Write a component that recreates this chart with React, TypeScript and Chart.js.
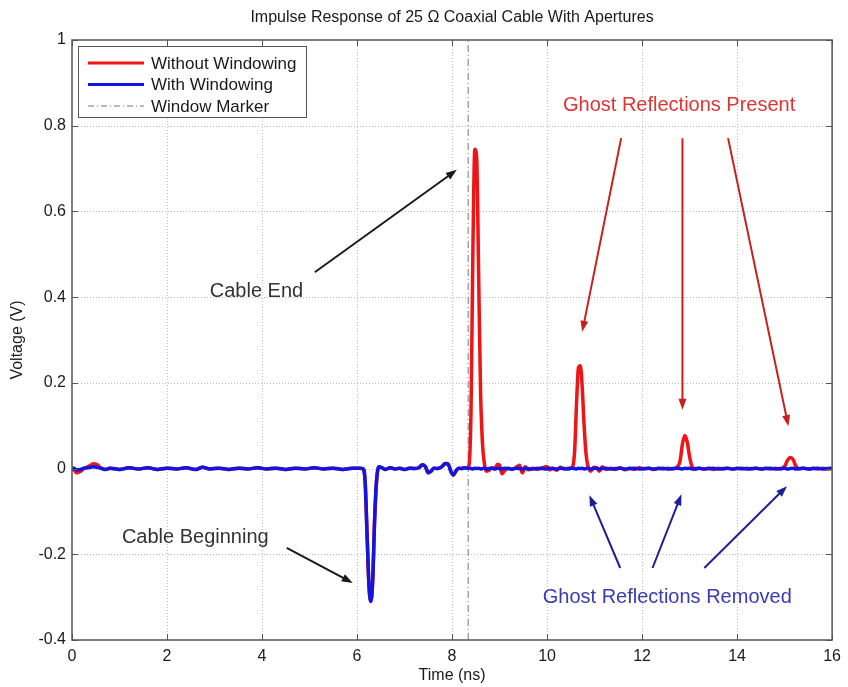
import React, { useEffect, useRef } from "react";
import { Chart, registerables } from "chart.js";

Chart.register(...registerables);

// ---------------- DATA ----------------
const TITLE = "Impulse Response of 25 \u03A9 Coaxial Cable With Apertures";
const X_LABEL = "Time (ns)";
const Y_LABEL = "Voltage (V)";
const SERIES_NAMES = ["Without Windowing", "With Windowing", "Window Marker"];

const X_TICKS = [0, 2, 4, 6, 8, 10, 12, 14, 16];
const Y_TICKS = [-0.4, -0.2, 0, 0.2, 0.4, 0.6, 0.8, 1];

const TIME_NS = [
  0, 0.05, 0.1, 0.18, 0.25, 0.35, 0.45, 0.52, 0.6, 0.7,
  0.8, 1.0, 1.2, 1.4, 1.6, 1.8, 2.0, 2.2, 2.4, 2.6,
  2.75, 2.9, 3.1, 3.3, 3.5, 3.7, 3.9, 4.1, 4.3, 4.5,
  4.7, 4.9, 5.1, 5.3, 5.5, 5.7, 5.9, 6.05, 6.12, 6.17,
  6.21, 6.25, 6.29, 6.33, 6.37, 6.41, 6.46, 6.52, 6.6, 6.7,
  6.8, 6.9, 7.0, 7.1, 7.2, 7.3, 7.38, 7.44, 7.5, 7.56,
  7.62, 7.7, 7.78, 7.86, 7.92, 7.98, 8.03, 8.08, 8.14, 8.2,
  8.26, 8.32, 8.36, 8.4, 8.44, 8.48, 8.52, 8.56, 8.6, 8.64,
  8.68, 8.72, 8.78, 8.84, 8.9, 8.96, 9.0, 9.05, 9.1, 9.18,
  9.26, 9.34, 9.42, 9.48, 9.54, 9.6, 9.7, 9.8, 9.9, 10.0,
  10.05, 10.12, 10.2, 10.28, 10.36, 10.44, 10.52, 10.58, 10.62, 10.66,
  10.7, 10.74, 10.78, 10.82, 10.86, 10.92, 10.98, 11.04, 11.1, 11.16,
  11.24, 11.34, 11.44, 11.54, 11.64, 11.74, 11.84, 11.94, 12.04, 12.14,
  12.24, 12.34, 12.44, 12.54, 12.64, 12.72, 12.8, 12.85, 12.9, 12.95,
  13.0, 13.05, 13.12, 13.2, 13.3, 13.4, 13.5, 13.6, 13.7, 13.8,
  13.9, 14.0, 14.1, 14.2, 14.3, 14.4, 14.5, 14.6, 14.7, 14.8,
  14.9, 15.0, 15.06, 15.12, 15.18, 15.24, 15.3, 15.4, 15.5, 15.6,
  15.7, 15.8, 15.9, 16.0,
];

const WITHOUT_WINDOWING = [
  0, -0.004, -0.01, -0.006, 0, 0.005, 0.011, 0.01, 0.002, -0.002,
  0.001, -0.002, 0.002, -0.001, 0.002, -0.002, 0.001, -0.001, 0.002, -0.002,
  0.003, -0.001, 0.001, -0.002, 0.001, -0.001, 0.002, -0.001, 0.001, -0.002,
  0.001, -0.001, 0.002, -0.001, 0.001, -0.002, 0.001, 0.001, 0, -0.03,
  -0.15, -0.27, -0.31, -0.26, -0.12, -0.03, 0.004, 0.002, -0.002, 0.002,
  -0.001, 0.001, -0.002, 0.001, 0, 0.002, 0.009, 0.004, -0.01, -0.006,
  0.001, 0, 0.004, 0.012, 0.01, -0.008, -0.015, -0.006, 0.001, 0,
  0.002, 0.001, 0.01, 0.14, 0.52, 0.745, 0.72, 0.45, 0.18, 0.06,
  0.012, -0.006, -0.004, 0.002, 0.001, 0.01, 0.008, -0.012, -0.006, 0.001,
  -0.002, 0.002, 0.008, -0.01, 0.004, -0.003, 0.001, -0.002, 0.002, 0.005,
  -0.003, 0.001, -0.004, 0.003, -0.001, 0.001, 0.002, 0.04, 0.15, 0.235,
  0.24, 0.19, 0.1, 0.035, 0.006, -0.006, 0.003, 0.002, -0.006, 0.004,
  -0.002, 0.001, -0.002, 0.002, -0.003, 0.001, -0.002, 0.002, -0.001, 0.001,
  -0.002, 0.001, -0.001, 0.001, -0.001, 0.002, 0.018, 0.058, 0.077, 0.062,
  0.028, 0.005, -0.002, 0.001, -0.001, 0.001, -0.002, 0.001, -0.001, 0.001,
  -0.001, 0.001, -0.001, 0.001, -0.001, 0.001, -0.001, 0.001, -0.001, 0.001,
  -0.001, 0.005, 0.019, 0.026, 0.021, 0.005, -0.001, 0.001, -0.001, 0.001,
  -0.001, 0.001, -0.001, 0,
];

const WITH_WINDOWING = [
  0.002, 0, -0.003, -0.002, 0.001, 0.002, 0.004, 0.003, 0.001, -0.002,
  0.001, -0.002, 0.002, -0.001, 0.002, -0.002, 0.001, -0.001, 0.002, -0.002,
  0.003, -0.001, 0.001, -0.002, 0.001, -0.001, 0.002, -0.001, 0.001, -0.002,
  0.001, -0.001, 0.002, -0.001, 0.001, -0.002, 0.001, 0.001, 0, -0.03,
  -0.15, -0.27, -0.31, -0.26, -0.12, -0.03, 0.004, 0.002, -0.002, 0.002,
  -0.001, 0.001, -0.002, 0.001, 0, 0.002, 0.009, 0.004, -0.01, -0.006,
  0.001, 0, 0.004, 0.012, 0.01, -0.008, -0.015, -0.006, 0.001, 0,
  0.002, 0.001, 0.001, 0, -0.001, 0.001, 0, 0.001, -0.001, 0,
  0.001, -0.001, 0, 0.001, -0.001, 0.001, 0, -0.001, 0.001, 0,
  -0.001, 0.001, 0, -0.001, 0.001, 0, -0.001, 0.001, 0, -0.001,
  0.001, 0, -0.001, 0.001, 0, -0.001, 0.001, 0, -0.001, 0.001,
  0, 0.001, -0.001, 0, 0.001, -0.001, 0, 0.001, -0.001, 0,
  0.001, -0.001, 0, 0.001, -0.001, 0, 0.001, -0.001, 0, 0.001,
  -0.001, 0, 0.001, -0.001, 0, 0.001, 0, -0.001, 0.001, 0,
  0.001, -0.001, 0, 0.001, -0.001, 0, 0.001, -0.001, 0, 0.001,
  -0.001, 0, 0.001, -0.001, 0, 0.001, -0.001, 0, 0.001, -0.001,
  0, 0.001, -0.001, 0, 0.001, -0.001, 0, 0.001, -0.001, 0,
  0.001, -0.001, 0, 0.001,
];

const WINDOW_MARKER_NS = 8.34;

// Annotations (text anchors and arrows in data units: [time ns, voltage V])
const NOTE_TEXTS = ["Cable End", "Cable Beginning", "Ghost Reflections Present", "Ghost Reflections Removed"];
const NOTE_ANCHORS = [[2.9, 0.414], [1.05, -0.16], [12.78, 0.848], [12.53, -0.3]];
const ARROWS_CABLE = [[[5.11, 0.458], [8.1, 0.697]], [[4.52, -0.185], [5.91, -0.267]]];
const ARROWS_PRESENT = [
  [[11.56, 0.771], [10.74, 0.319]],
  [[12.85, 0.771], [12.85, 0.137]],
  [[13.81, 0.771], [15.08, 0.099]],
];
const ARROWS_REMOVED = [
  [[11.54, -0.232], [10.89, -0.062]],
  [[12.22, -0.232], [12.83, -0.06]],
  [[13.31, -0.232], [15.05, -0.041]],
];

// ---------------- STYLE ----------------
const FONT = "Arial, 'Liberation Sans', sans-serif";
const RED = "#f01414";
const BLUE = "#1414e0";
const MARKER = "#777777";

function arrow(ctx: CanvasRenderingContext2D, x1: number, y1: number, x2: number, y2: number, color: string) {
  const ang = Math.atan2(y2 - y1, x2 - x1);
  const len = 11;
  const half = 4;
  ctx.strokeStyle = color;
  ctx.fillStyle = color;
  ctx.lineWidth = 2;
  ctx.setLineDash([]);
  ctx.beginPath();
  ctx.moveTo(x1, y1);
  ctx.lineTo(x2 - Math.cos(ang) * len * 0.6, y2 - Math.sin(ang) * len * 0.6);
  ctx.stroke();
  ctx.beginPath();
  ctx.moveTo(x2, y2);
  ctx.lineTo(x2 - Math.cos(ang) * len + Math.sin(ang) * half, y2 - Math.sin(ang) * len - Math.cos(ang) * half);
  ctx.lineTo(x2 - Math.cos(ang) * len - Math.sin(ang) * half, y2 - Math.sin(ang) * len + Math.cos(ang) * half);
  ctx.closePath();
  ctx.fill();
}

const decoPlugin = {
  id: "deco",
  beforeDatasetsDraw(chart: any) {
    const { ctx, chartArea: a, scales } = chart;
    const xs = scales.x;
    const ys = scales.y;
    ctx.save();
    ctx.strokeStyle = "#bdbdbd";
    ctx.lineWidth = 1;
    ctx.setLineDash([1, 2]);
    for (const t of X_TICKS.slice(1, -1)) {
      const px = Math.round(xs.getPixelForValue(t)) + 0.5;
      ctx.beginPath();
      ctx.moveTo(px, a.top);
      ctx.lineTo(px, a.bottom);
      ctx.stroke();
    }
    for (const v of Y_TICKS.slice(1, -1)) {
      const py = Math.round(ys.getPixelForValue(v)) + 0.5;
      ctx.beginPath();
      ctx.moveTo(a.left, py);
      ctx.lineTo(a.right, py);
      ctx.stroke();
    }
    ctx.restore();
  },
  afterDatasetsDraw(chart: any) {
    const { ctx, chartArea: a, scales } = chart;
    const xs = scales.x;
    const ys = scales.y;
    const P = (p: number[]) => [xs.getPixelForValue(p[0]), ys.getPixelForValue(p[1])];
    ctx.save();
    // frame
    ctx.setLineDash([]);
    ctx.strokeStyle = "#555555";
    ctx.lineWidth = 1.5;
    ctx.strokeRect(a.left, a.top, a.right - a.left, a.bottom - a.top);
    // inner ticks
    ctx.lineWidth = 1;
    const tl = 6;
    for (const t of X_TICKS) {
      const px = Math.round(xs.getPixelForValue(t)) + 0.5;
      ctx.beginPath();
      ctx.moveTo(px, a.bottom);
      ctx.lineTo(px, a.bottom - tl);
      ctx.moveTo(px, a.top);
      ctx.lineTo(px, a.top + tl);
      ctx.stroke();
    }
    for (const v of Y_TICKS) {
      const py = Math.round(ys.getPixelForValue(v)) + 0.5;
      ctx.beginPath();
      ctx.moveTo(a.left, py);
      ctx.lineTo(a.left + tl, py);
      ctx.moveTo(a.right, py);
      ctx.lineTo(a.right - tl, py);
      ctx.stroke();
    }

    // annotations
    ctx.textBaseline = "middle";
    ctx.font = `20px ${FONT}`;
    const colors = ["#333333", "#333333", "#e03434", "#3a3ab4"];
    const aligns = ["left", "left", "center", "center"];
    NOTE_TEXTS.forEach((txt, i) => {
      const [px, py] = P(NOTE_ANCHORS[i]);
      ctx.fillStyle = colors[i];
      ctx.textAlign = aligns[i];
      ctx.fillText(txt, px, py);
    });
    for (const [s, e] of ARROWS_CABLE) {
      const [x1, y1] = P(s);
      const [x2, y2] = P(e);
      arrow(ctx, x1, y1, x2, y2, "#1a1a1a");
    }
    for (const [s, e] of ARROWS_PRESENT) {
      const [x1, y1] = P(s);
      const [x2, y2] = P(e);
      arrow(ctx, x1, y1, x2, y2, "#c82020");
    }
    for (const [s, e] of ARROWS_REMOVED) {
      const [x1, y1] = P(s);
      const [x2, y2] = P(e);
      arrow(ctx, x1, y1, x2, y2, "#1e1e96");
    }

    // legend box
    const lx = a.left + 6;
    const ly = a.top + 6;
    const lw = 228;
    const lh = 71;
    ctx.fillStyle = "#ffffff";
    ctx.fillRect(lx, ly, lw, lh);
    ctx.strokeStyle = "#555555";
    ctx.lineWidth = 1;
    ctx.strokeRect(lx + 0.5, ly + 0.5, lw, lh);
    const legColors = [RED, BLUE, MARKER];
    const legWidths = [3, 3, 1];
    const legDash = [[], [], [6, 3, 1, 3]];
    ctx.font = `17px ${FONT}`;
    ctx.textAlign = "left";
    ctx.textBaseline = "middle";
    SERIES_NAMES.forEach((name, i) => {
      const yy = ly + 17 + i * 21.5;
      ctx.strokeStyle = legColors[i];
      ctx.lineWidth = legWidths[i];
      ctx.setLineDash(legDash[i]);
      ctx.beginPath();
      ctx.moveTo(lx + 10, yy);
      ctx.lineTo(lx + 66, yy);
      ctx.stroke();
      ctx.setLineDash([]);
      ctx.fillStyle = "#1a1a1a";
      ctx.fillText(name, lx + 73, yy + 1);
    });
    ctx.restore();
  },
  afterDraw(chart: any) {
    const { ctx, chartArea: a } = chart;
    ctx.save();
    ctx.fillStyle = "#1a1a1a";
    ctx.textAlign = "center";
    ctx.textBaseline = "middle";
    ctx.font = `16px ${FONT}`;
    ctx.fillText(TITLE, (a.left + a.right) / 2, 18);
    ctx.fillText(X_LABEL, (a.left + a.right) / 2, 676);
    ctx.translate(18, (a.top + a.bottom) / 2);
    ctx.rotate(-Math.PI / 2);
    ctx.fillText(Y_LABEL, 0, 0);
    ctx.restore();
  },
};

export default function App() {
  const ref = useRef<HTMLCanvasElement | null>(null);
  useEffect(() => {
    if (!ref.current) return;
    const toPts = (vals: number[]) => TIME_NS.map((t, i) => ({ x: t, y: vals[i] }));
    const chart = new Chart(ref.current, {
      type: "line",
      data: {
        datasets: [
          {
            label: SERIES_NAMES[0],
            data: toPts(WITHOUT_WINDOWING),
            borderColor: RED,
            borderWidth: 3.5,
            pointRadius: 0,
            cubicInterpolationMode: "monotone",
            order: 1,
          },
          {
            label: SERIES_NAMES[1],
            data: toPts(WITH_WINDOWING),
            borderColor: BLUE,
            borderWidth: 3.5,
            pointRadius: 0,
            cubicInterpolationMode: "monotone",
            order: 0,
          },
          {
            label: SERIES_NAMES[2],
            data: [
              { x: WINDOW_MARKER_NS, y: Y_TICKS[0] },
              { x: WINDOW_MARKER_NS, y: Y_TICKS[Y_TICKS.length - 1] },
            ],
            borderColor: MARKER,
            borderWidth: 1,
            borderDash: [7, 3, 1, 3],
            pointRadius: 0,
            order: 2,
          },
        ],
      },
      options: {
        animation: false,
        responsive: false,
        events: [],
        layout: { padding: { top: 40, right: 15, left: 0, bottom: 0 } },
        plugins: { legend: { display: false }, tooltip: { enabled: false }, title: { display: false } },
        scales: {
          x: {
            type: "linear",
            min: X_TICKS[0],
            max: X_TICKS[X_TICKS.length - 1],
            afterBuildTicks: (s: any) => {
              s.ticks = X_TICKS.map((v) => ({ value: v }));
            },
            afterFit: (s: any) => {
              s.height = 47;
            },
            grid: { display: false, drawTicks: false },
            border: { display: false },
            ticks: {
              padding: 7,
              maxRotation: 0,
              autoSkip: false,
              color: "#1a1a1a",
              font: { family: FONT, size: 16 },
              callback: (v: any) => String(v),
            },
          },
          y: {
            type: "linear",
            min: Y_TICKS[0],
            max: Y_TICKS[Y_TICKS.length - 1],
            afterBuildTicks: (s: any) => {
              s.ticks = Y_TICKS.map((v) => ({ value: v }));
            },
            afterFit: (s: any) => {
              s.width = 72;
            },
            grid: { display: false, drawTicks: false },
            border: { display: false },
            ticks: {
              padding: 6,
              autoSkip: false,
              color: "#1a1a1a",
              font: { family: FONT, size: 16 },
              callback: (v: any) => String(Math.round(v * 10) / 10),
            },
          },
        },
      },
      plugins: [decoPlugin],
    } as any);
    return () => chart.destroy();
  }, []);
  return (
    <div style={{ position: "absolute", left: 0, top: 0, width: 848, height: 687, background: "#fff" }}>
      <canvas ref={ref} width={848} height={687} style={{ width: 848, height: 687, display: "block" }} />
    </div>
  );
}
